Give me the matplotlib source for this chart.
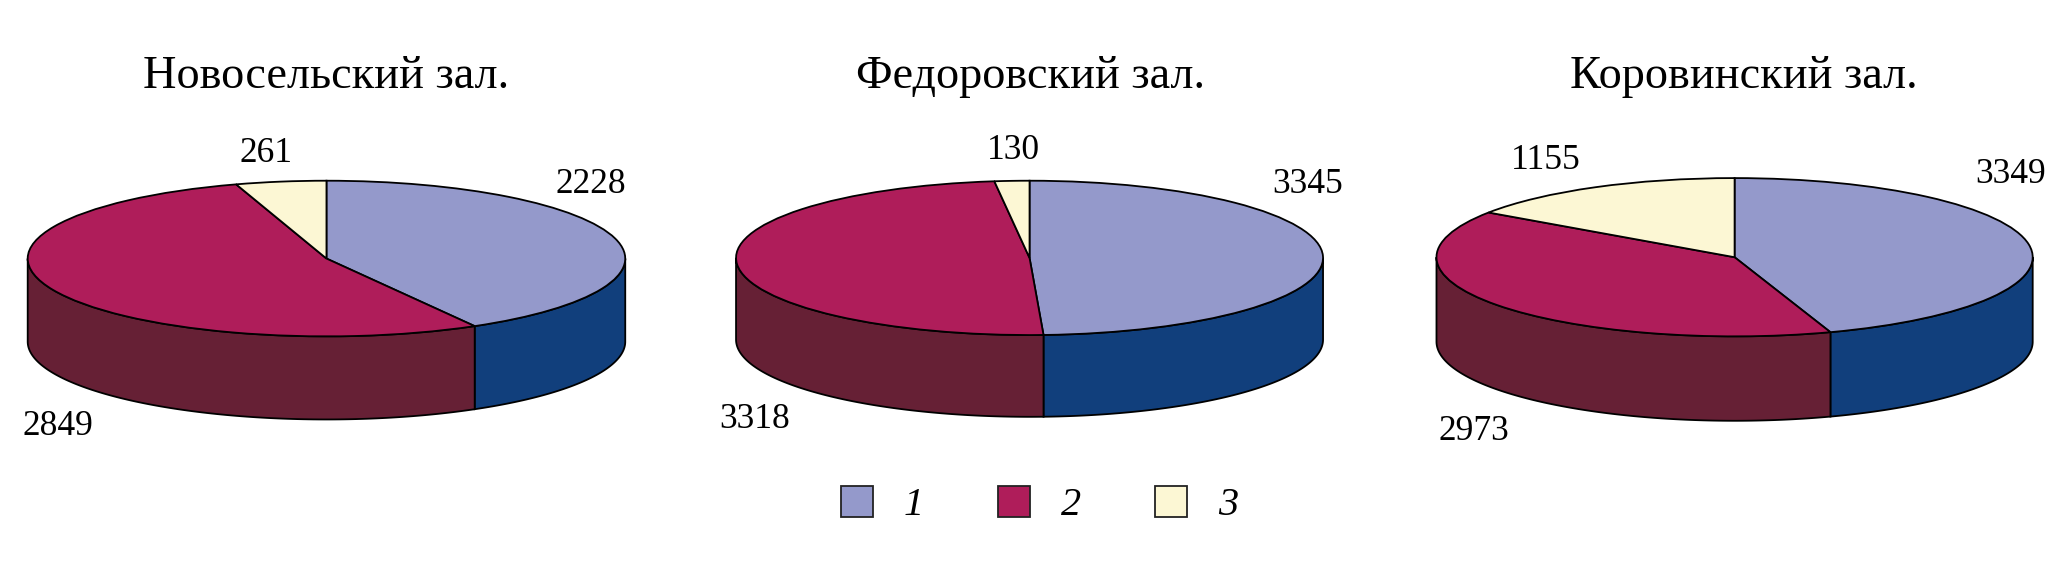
import numpy as np
import matplotlib
matplotlib.use("Agg")
import matplotlib.pyplot as plt
from matplotlib.patches import Patch

# Data
hall_names = ["Новосельский зал.", "Федоровский зал.", "Коровинский зал."]
values_novoselsky = [2228, 2849, 261]
values_fedorovsky = [3345, 3318, 130]
values_korovinsky = [3349, 2973, 1155]
legend_labels = ["1", "2", "3"]

# Style
top_colors = ["#9499CB", "#AF1D5A", "#FCF7D4"]
side_colors = ["#113F7C", "#662035", "#FCF7D4"]
W, H = 2067, 573
S = W / 1567
plt.rcParams["font.family"] = ["Liberation Serif", "DejaVu Serif"]
fig = plt.figure(figsize=(W / 100, H / 100), dpi=100, facecolor="white")

# Layout in reference display px: left, right, top, ellipse bottom, wall bottom
boxes = [(21, 474, 137, 255, 318), (558, 1003, 137, 254, 316), (1089, 1541, 135, 255, 319)]
title_pos = [(247, 58), (781, 58), (1322, 58)]
label_pos = [
    [(448, 140), (44, 323), (202, 116)],
    [(991, 140), (572, 318), (768, 114)],
    [(1524, 132), (1117, 327), (1172, 122)],
]

def fx(x):
    return x * S / W

def fy(y):
    return 1 - y * S / H

all_values = [values_novoselsky, values_fedorovsky, values_korovinsky]
for name, values, box, tp, lps in zip(hall_names, all_values, boxes, title_pos, label_pos):
    l, r, t, eb, wb = box
    ax = fig.add_axes([fx(l), fy(wb), fx(r) - fx(l), fy(t) - fy(wb)])
    wedges, _ = ax.pie(values, startangle=90, counterclock=False, colors=top_colors, radius=1,
                       wedgeprops=dict(edgecolor="black", linewidth=1.3, zorder=3, clip_on=False))
    depth = 2 * (wb - eb) / (eb - t)
    ax.set_aspect("auto")
    ax.set_xlim(-1, 1)
    ax.set_ylim(-1 - depth, 1)
    ax.axis("off")
    for w, c in zip(wedges, side_colors):
        for shift in (-360, 0):
            lo = max(w.theta1, 180 + shift)
            hi = min(w.theta2, 360 + shift)
            if hi > lo:
                a = np.radians(np.linspace(lo, hi, 120))
                xs = np.r_[np.cos(a), np.cos(a[::-1])]
                ys = np.r_[np.sin(a), np.sin(a[::-1]) - depth]
                ax.fill(xs, ys, facecolor=c, edgecolor="black", linewidth=1.3, zorder=2, clip_on=False)
    fig.text(fx(tp[0]), fy(tp[1]), name, fontsize=33.3, ha="center", va="center")
    for v, p in zip(values, lps):
        fig.text(fx(p[0]), fy(p[1]), str(v), fontsize=25.5, ha="center", va="center")

handles = [Patch(facecolor=c, edgecolor="#222222", linewidth=1.3) for c in top_colors]
fig.legend(handles, legend_labels, ncols=3, loc="center", bbox_to_anchor=(fx(788), fy(383)),
           frameon=False, prop=dict(size=29, style="italic", family="Liberation Serif"),
           handlelength=0.8, handleheight=0.8, handletextpad=0.75, columnspacing=1.85)
fig.savefig("out.png", dpi=100, facecolor="white")
